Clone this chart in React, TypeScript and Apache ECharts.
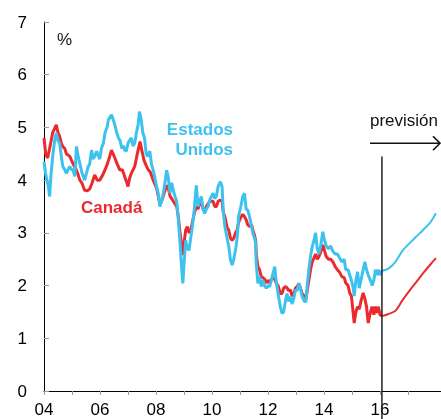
import React, { useEffect, useRef } from "react";
import * as echarts from "echarts";

const usYears = [
  2004.0, 2004.05, 2004.1, 2004.15, 2004.2, 2004.25, 2004.31, 2004.38, 2004.44, 2004.5, 2004.56, 2004.62, 2004.67, 2004.74, 2004.8, 2004.86, 2004.92, 2004.98,
  2005.03, 2005.1, 2005.16, 2005.22, 2005.28, 2005.35, 2005.45, 2005.5, 2005.58, 2005.63, 2005.7, 2005.75, 2005.81, 2005.88, 2005.95, 2005.99,
  2006.05, 2006.12, 2006.18, 2006.25, 2006.3, 2006.36, 2006.41, 2006.47, 2006.53, 2006.6, 2006.66, 2006.71, 2006.78, 2006.84, 2006.88, 2006.94,
  2007.0, 2007.06, 2007.12, 2007.18, 2007.24, 2007.3, 2007.36, 2007.41, 2007.47, 2007.53, 2007.59, 2007.65, 2007.7, 2007.78, 2007.84, 2007.9, 2007.96,
  2008.02, 2008.08, 2008.14, 2008.2, 2008.26, 2008.32, 2008.38, 2008.44, 2008.5, 2008.56, 2008.62, 2008.68, 2008.74, 2008.8, 2008.86, 2008.92, 2008.96,
  2009.0, 2009.06, 2009.12, 2009.18, 2009.24, 2009.3, 2009.36, 2009.44, 2009.5, 2009.56, 2009.62, 2009.68, 2009.74, 2009.8, 2009.86, 2009.92, 2009.98,
  2010.04, 2010.1, 2010.16, 2010.22, 2010.3, 2010.36, 2010.4, 2010.46, 2010.54, 2010.6, 2010.66, 2010.72, 2010.78, 2010.84, 2010.9, 2010.95,
  2011.03, 2011.1, 2011.16, 2011.22, 2011.28, 2011.34, 2011.42, 2011.46, 2011.52, 2011.56, 2011.58, 2011.64, 2011.7, 2011.76, 2011.82, 2011.88, 2011.94,
  2012.0, 2012.06, 2012.12, 2012.18, 2012.24, 2012.3, 2012.36, 2012.44, 2012.5, 2012.56, 2012.62, 2012.68, 2012.74, 2012.8, 2012.86, 2012.92, 2012.98,
  2013.04, 2013.1, 2013.16, 2013.22, 2013.3, 2013.36, 2013.4, 2013.46, 2013.52, 2013.58, 2013.64, 2013.7, 2013.76, 2013.82, 2013.88, 2013.96,
  2014.0, 2014.08, 2014.16, 2014.24, 2014.32, 2014.4, 2014.48, 2014.56, 2014.64, 2014.72, 2014.78, 2014.86, 2014.92, 2014.98,
  2015.04, 2015.08, 2015.14, 2015.2, 2015.26, 2015.32, 2015.4, 2015.46, 2015.52, 2015.58, 2015.66, 2015.72, 2015.78, 2015.84, 2015.9, 2015.94,
  2016.0, 2016.07,
];
const usValues = [
  4.35, 4.15, 4.0, 3.9, 3.69, 4.1, 4.45, 4.75, 4.9, 4.75, 4.7, 4.45, 4.26, 4.2, 4.13, 4.2, 4.26, 4.2,
  4.2, 4.07, 4.64, 4.45, 4.32, 4.15, 4.0, 4.1, 4.26, 4.3, 4.57, 4.4, 4.45, 4.55, 4.45, 4.4,
  4.6, 4.7, 4.9, 5.0, 5.14, 5.2, 5.24, 5.15, 5.05, 4.9, 4.8, 4.76, 4.6, 4.65, 4.57, 4.55,
  4.7, 4.76, 4.8, 4.65, 4.7, 4.9, 5.05, 5.3, 5.15, 4.9, 4.8, 4.5, 4.45, 4.55, 4.3, 4.19, 4.05,
  3.88, 3.75, 3.5, 3.6, 3.75, 3.95, 4.19, 4.05, 3.75, 3.95, 3.8, 3.69, 3.6, 3.24, 2.8, 2.3, 2.04,
  2.4, 2.86, 2.7, 2.67, 2.9, 3.12, 3.4, 3.9, 3.5, 3.6, 3.69, 3.45, 3.37, 3.45, 3.5, 3.62, 3.69,
  3.75, 3.65, 3.7, 3.88, 3.97, 3.88, 3.43, 3.12, 2.9, 2.74, 2.49, 2.39, 2.5, 2.68, 2.9, 3.31,
  3.5, 3.69, 3.75, 3.45, 3.43, 3.31, 3.1, 2.99, 2.9, 2.8, 2.42, 2.04, 2.17, 1.98, 2.1, 2.0, 1.95,
  2.0, 1.98, 2.1, 2.23, 2.36, 2.05, 1.85, 1.6, 1.47, 1.5, 1.7, 1.85, 1.7, 1.79, 1.65, 1.75, 1.92,
  1.9, 2.04, 1.95, 1.79, 1.7, 1.7, 2.0, 2.3, 2.55, 2.74, 2.85, 3.0, 2.7, 2.6, 2.75, 3.02,
  2.9, 2.75, 2.7, 2.75, 2.65, 2.6, 2.6, 2.52, 2.45, 2.5, 2.3, 2.3, 2.2, 2.1,
  1.97, 1.8, 2.1, 2.26, 1.95, 2.1, 2.3, 2.45, 2.3, 2.2, 2.1, 2.0, 2.1, 2.3, 2.2, 2.3,
  2.2, 2.28,
];

const caYears = [
  2004.0, 2004.06, 2004.13, 2004.2, 2004.31, 2004.44, 2004.5, 2004.56, 2004.62, 2004.67, 2004.74, 2004.8, 2004.92,
  2005.03, 2005.1, 2005.16, 2005.22, 2005.28, 2005.35, 2005.45, 2005.55, 2005.63, 2005.72, 2005.81, 2005.9, 2005.99,
  2006.1, 2006.23, 2006.32, 2006.41, 2006.47, 2006.53, 2006.62, 2006.71, 2006.8, 2006.88, 2006.96,
  2007.0, 2007.06, 2007.12, 2007.24, 2007.36, 2007.43, 2007.5, 2007.57, 2007.64, 2007.72, 2007.8, 2007.9,
  2008.02, 2008.08, 2008.14, 2008.2, 2008.26, 2008.32, 2008.38, 2008.44, 2008.5, 2008.56, 2008.62, 2008.68, 2008.74, 2008.8, 2008.86, 2008.92, 2008.96,
  2009.0, 2009.06, 2009.12, 2009.18, 2009.24, 2009.3, 2009.36, 2009.44, 2009.5, 2009.56, 2009.62, 2009.68, 2009.74, 2009.8, 2009.86, 2009.92, 2009.98,
  2010.04, 2010.1, 2010.16, 2010.22, 2010.3, 2010.36, 2010.4, 2010.46, 2010.54, 2010.6, 2010.66, 2010.72, 2010.78, 2010.84, 2010.9, 2010.95,
  2011.03, 2011.1, 2011.16, 2011.22, 2011.28, 2011.34, 2011.42, 2011.46, 2011.52, 2011.56, 2011.58, 2011.64, 2011.7, 2011.76, 2011.82, 2011.88, 2011.94,
  2012.0, 2012.06, 2012.12, 2012.18, 2012.24, 2012.3, 2012.36, 2012.44, 2012.5, 2012.56, 2012.62, 2012.68, 2012.74, 2012.8, 2012.86, 2012.92, 2012.98,
  2013.04, 2013.1, 2013.16, 2013.22, 2013.3, 2013.36, 2013.4, 2013.46, 2013.52, 2013.58, 2013.64, 2013.7, 2013.76, 2013.82, 2013.88, 2013.96,
  2014.0, 2014.08, 2014.16, 2014.24, 2014.32, 2014.4, 2014.48, 2014.56, 2014.64, 2014.72, 2014.78, 2014.86, 2014.92, 2014.98,
  2015.04, 2015.08, 2015.14, 2015.2, 2015.26, 2015.32, 2015.4, 2015.46, 2015.52, 2015.58, 2015.66, 2015.72, 2015.78, 2015.84, 2015.9, 2015.94,
  2016.0, 2016.07,
];
const caValues = [
  4.8, 4.5, 4.42, 4.6, 4.9, 5.05, 4.9, 4.83, 4.7, 4.64, 4.6, 4.5, 4.45,
  4.32, 4.25, 4.19, 4.1, 4.0, 3.95, 3.81, 3.8, 3.83, 3.95, 4.1, 4.0, 4.0,
  4.1, 4.26, 4.4, 4.57, 4.5, 4.42, 4.3, 4.19, 4.2, 4.07, 3.95,
  3.88, 4.04, 4.13, 4.26, 4.57, 4.73, 4.55, 4.38, 4.29, 4.2, 4.15, 4.0,
  3.85, 3.7, 3.55, 3.6, 3.7, 3.8, 3.9, 3.85, 3.7, 3.65, 3.6, 3.55, 3.5, 3.3, 3.0, 2.75, 2.58,
  2.8, 3.05, 3.12, 3.0, 3.05, 3.2, 3.35, 3.5, 3.45, 3.55, 3.6, 3.45, 3.4, 3.5, 3.55, 3.6, 3.6,
  3.6, 3.5, 3.5, 3.6, 3.62, 3.6, 3.4, 3.31, 3.1, 3.05, 2.9, 2.86, 2.9, 3.0, 3.05, 3.2,
  3.3, 3.35, 3.31, 3.25, 3.15, 3.12, 3.15, 3.05, 2.95, 2.86, 2.6, 2.36, 2.3, 2.17, 2.15, 2.12, 2.05,
  2.1, 2.05, 2.12, 2.15, 2.12, 2.04, 2.0, 1.85, 1.85, 1.95, 1.98, 1.96, 1.9, 1.92, 1.8, 1.85, 1.95,
  1.98, 2.04, 1.95, 1.85, 1.8, 1.75, 1.9, 2.1, 2.3, 2.45, 2.52, 2.6, 2.5, 2.55, 2.63, 2.77,
  2.7, 2.55, 2.5, 2.5, 2.45, 2.36, 2.3, 2.25, 2.17, 2.15, 2.05, 2.0, 1.86, 1.8,
  1.5, 1.29, 1.5, 1.6, 1.55, 1.7, 1.86, 1.75, 1.6, 1.29, 1.5, 1.6, 1.45, 1.6, 1.48, 1.6,
  1.45, 1.42,
];

const fcYears = [2016.07, 2016.3, 2016.55, 2016.8, 2017.05, 2017.3, 2017.55, 2017.8, 2018.0];
const usForecast = [2.28, 2.32, 2.45, 2.66, 2.8, 2.93, 3.06, 3.2, 3.37];
const caForecast = [1.42, 1.46, 1.52, 1.72, 1.9, 2.07, 2.24, 2.4, 2.52];

const xLabelYears = [2004, 2006, 2008, 2010, 2012, 2014, 2016];
const xTickYears = [2004, 2005, 2006, 2007, 2008, 2009, 2010, 2011, 2012, 2013, 2014, 2015, 2016, 2017];
const forecastStart = 2016.07;

const CYAN = "#3DC2EE";
const RED = "#EC2A2E";
const FONT = "'Liberation Sans', Arial, sans-serif";

const zip = (xs: number[], ys: number[]) => xs.map((x, i) => [x, ys[i]]);

export default function App() {
  const ref = useRef<HTMLDivElement>(null);
  useEffect(() => {
    const chart = echarts.init(ref.current!, undefined, { renderer: "svg" });
    chart.setOption({
      animation: false,
      textStyle: { fontFamily: FONT },
      grid: { left: 44, right: 0, top: 22, bottom: 28, containLabel: false },
      xAxis: {
        type: "value",
        min: 2004,
        max: 2018.18,
        interval: 1,
        splitLine: { show: false },
        axisLine: { lineStyle: { color: "#000", width: 1 } },
        axisTick: { customValues: xTickYears, length: 4, inside: false, lineStyle: { color: "#999" } },
        axisLabel: {
          customValues: xLabelYears,
          formatter: (v: number) => String(Math.round(v)).slice(2),
          fontSize: 17,
          color: "#000",
          margin: 10,
          fontFamily: FONT,
        },
      },
      yAxis: {
        type: "value",
        min: 0,
        max: 7,
        interval: 1,
        splitLine: { show: false },
        axisLine: { show: true, lineStyle: { color: "#000", width: 1 } },
        axisTick: { show: true, inside: true, length: 5, lineStyle: { color: "#999" } },
        axisLabel: { fontSize: 17, color: "#000", margin: 17, fontFamily: FONT },
      },
      series: [
        { name: "Canadá", type: "line", data: zip(caYears, caValues), showSymbol: false, symbol: "none", lineStyle: { color: RED, width: 3 }, z: 2 },
        { name: "Estados Unidos", type: "line", data: zip(usYears, usValues), showSymbol: false, symbol: "none", lineStyle: { color: CYAN, width: 3 }, z: 3 },
        { name: "Canadá previsión", type: "line", data: zip(fcYears, caForecast), showSymbol: false, symbol: "none", smooth: 0.3, lineStyle: { color: RED, width: 2 }, z: 2 },
        { name: "EE.UU. previsión", type: "line", data: zip(fcYears, usForecast), showSymbol: false, symbol: "none", smooth: 0.3, lineStyle: { color: CYAN, width: 2 }, z: 3 },
      ],
    });
    const vx = chart.convertToPixel({ xAxisIndex: 0 }, forecastStart) as number;
    const vTop = chart.convertToPixel({ yAxisIndex: 0 }, 4.45) as number;
    const arrowY = chart.convertToPixel({ yAxisIndex: 0 }, 4.7) as number;
    chart.setOption({
      graphic: [
        { type: "line", shape: { x1: vx, y1: vTop, x2: vx, y2: 419 }, style: { stroke: "#222", lineWidth: 1.5 }, z: 10 },
        { type: "line", shape: { x1: 370, y1: arrowY, x2: 440, y2: arrowY }, style: { stroke: "#111", lineWidth: 1.6 }, z: 10 },
        { type: "polyline", shape: { points: [[433, arrowY - 7], [440, arrowY], [433, arrowY + 7]] }, style: { stroke: "#111", lineWidth: 1.6, fill: "none" }, z: 10 },
        { type: "text", x: 370, y: 112, style: { text: "previsión", font: `17px ${FONT}`, fill: "#111" }, z: 10 },
        { type: "text", x: 57, y: 31, style: { text: "%", font: `17px ${FONT}`, fill: "#111" }, z: 10 },
        { type: "text", x: 233, y: 119, style: { text: "Estados\nUnidos", font: `bold 17px ${FONT}`, fill: CYAN, align: "right", lineHeight: 20 }, z: 10 },
        { type: "text", x: 81, y: 199, style: { text: "Canadá", font: `bold 17px ${FONT}`, fill: RED }, z: 10 },
      ],
    });
    return () => chart.dispose();
  }, []);
  return <div ref={ref} style={{ position: "fixed", left: 0, top: 0, width: 441, height: 419 }} />;
}
